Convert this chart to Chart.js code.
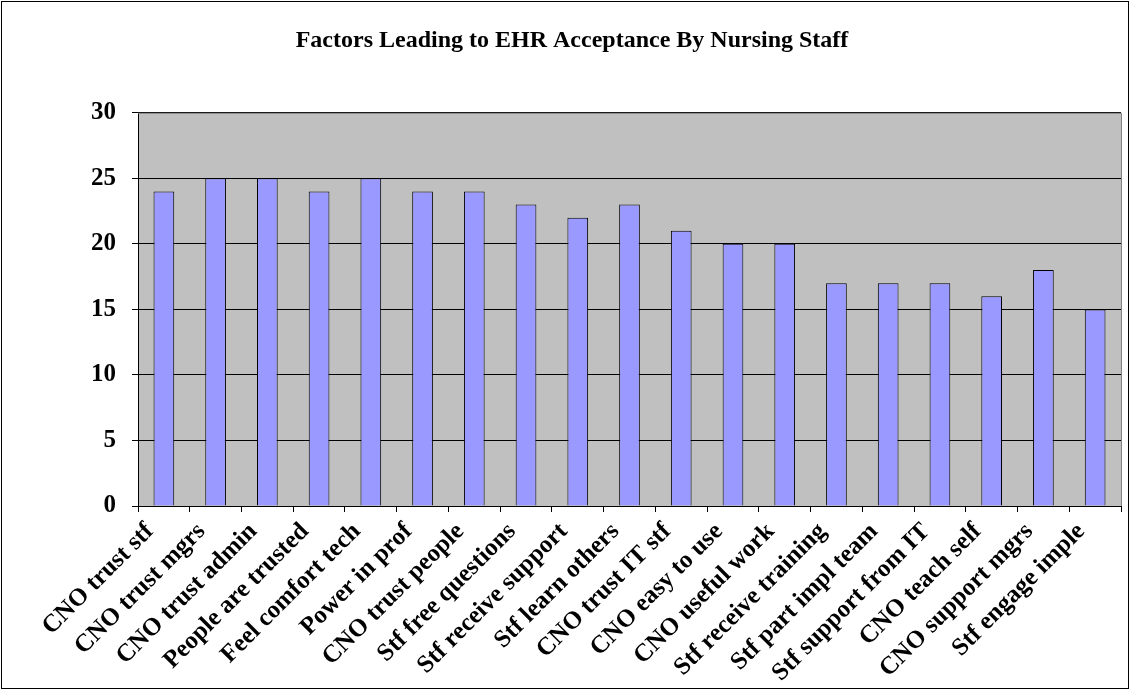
<!DOCTYPE html>
<html>
<head>
<meta charset="utf-8">
<script src="https://cdn.jsdelivr.net/npm/chart.js@4.4.1/dist/chart.umd.min.js"></script>
<style>
  html, body { margin: 0; padding: 0; background: #fff; }
  #wrap { width: 1130px; height: 690px; position: relative; }
</style>
</head>
<body>
<div id="wrap"><canvas id="ehr_chart" width="1130" height="690"></canvas></div>
<script>
let categories = ['CNO trust stf', 'CNO trust mgrs', 'CNO trust admin', 'People are trusted',
  'Feel comfort tech', 'Power in prof', 'CNO trust people', 'Stf free questions',
  'Stf receive support', 'Stf learn others', 'CNO trust IT stf', 'CNO easy to use',
  'CNO useful work', 'Stf receive training', 'Stf part impl team', 'Stf support from IT',
  'CNO teach self', 'CNO support mgrs', 'Stf engage imple'];
let counts = [24, 25, 25, 24, 25, 24, 24, 23, 22, 23, 21, 20, 20, 17, 17, 17, 16, 18, 15];
let yTicks = [0, 5, 10, 15, 20, 25, 30];

let serif = "'Liberation Serif', 'Times New Roman', serif";

// grey plot area + outer frame, like the old office chart
let frame = {
  id: 'frame',
  beforeDraw(chart){
    let ctx = chart.ctx, a = chart.chartArea;
    ctx.save();
    ctx.fillStyle = '#fff';
    ctx.fillRect(0, 0, chart.width, chart.height);
    ctx.fillStyle = '#c0c0c0';
    ctx.fillRect(a.left, a.top, a.right - a.left, a.bottom - a.top);
    ctx.strokeStyle = '#000';
    ctx.lineWidth = 1;
    ctx.strokeRect(1.5, 1.5, chart.width - 3, chart.height - 3);
    ctx.restore();
  },
  afterDraw(chart){
    let ctx = chart.ctx, a = chart.chartArea;
    ctx.save();
    ctx.strokeStyle = '#808080';
    ctx.lineWidth = 1;
    ctx.beginPath();
    ctx.moveTo(a.left, a.top + 0.5);
    ctx.lineTo(a.right + 0.5, a.top + 0.5);
    ctx.lineTo(a.right + 0.5, a.bottom);
    ctx.stroke();
    ctx.restore();
  }
};

new Chart('ehr_chart', {
  type: 'bar',
  data: {
    labels: categories,
    datasets: [{
      data: counts,
      backgroundColor: '#9999ff',
      borderColor: '#000',
      borderWidth: 1,
      barPercentage: 0.8,
      categoryPercentage: 0.5
    }]
  },
  options: {
    responsive: false,
    animation: false,
    layout: { padding: { left: 23, right: 9, top: 0, bottom: 0 } },
    plugins: {
      legend: { display: false },
      tooltip: { enabled: false },
      title: {
        display: true,
        text: 'Factors Leading to EHR Acceptance By Nursing Staff',
        color: '#000',
        font: { family: serif, size: 24, weight: 'bold' },
        padding: { top: 26, bottom: 58 }
      }
    },
    scales: {
      x: {
        grid: { display: true, drawOnChartArea: false, drawTicks: true, tickLength: 6, color: '#000', offset: true },
        border: { color: '#000' },
        ticks: {
          color: '#000',
          font: { family: serif, size: 25, weight: 'bold' },
          minRotation: 45, maxRotation: 45,
          autoSkip: false,
          labelOffset: -14,
          padding: 5
        },
        afterFit(scale){ scale.height = 184; }
      },
      y: {
        min: 0, max: 30,
        afterBuildTicks(scale){ scale.ticks = yTicks.map(v => ({ value: v })); },
        grid: { color: '#000', tickLength: 6 },
        border: { color: '#000' },
        ticks: {
          color: '#000',
          font: { family: serif, size: 25, weight: 'bold' },
          padding: 16
        },
        afterFit(scale){ scale.width = 115; }
      }
    }
  },
  plugins: [frame]
});
</script>
</body>
</html>
